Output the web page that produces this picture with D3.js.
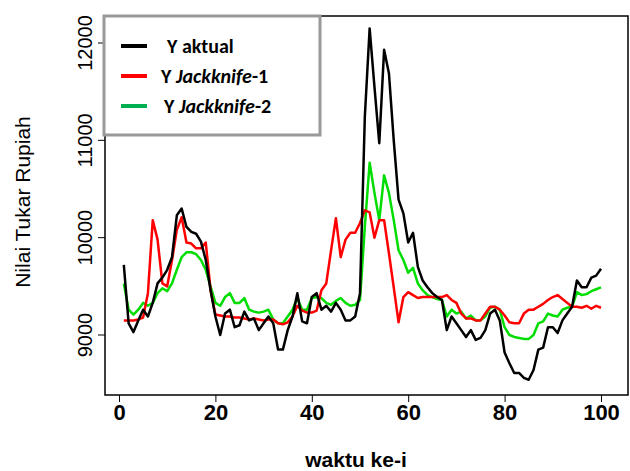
<!DOCTYPE html><html><head><script src="https://cdn.jsdelivr.net/npm/d3@7"></script>
<style>body{margin:0;background:#fff}</style></head><body><svg id="c" width="630" height="471"></svg>
<script>
const aktual=[9720,9120,9030,9150,9260,9190,9330,9530,9590,9670,9800,10230,10300,10110,10060,10040,9960,9770,9460,9190,
9000,9220,9260,9080,9100,9240,9150,9170,9050,9120,9190,9120,8850,8850,9050,9190,9430,9140,9120,9390,
9430,9260,9300,9240,9330,9260,9150,9150,9190,9430,11240,12150,11550,10970,11930,11690,11000,10390,10250,9950,
10050,9700,9560,9490,9430,9390,9360,9050,9190,9120,9050,8980,9050,8950,8970,9050,9220,9260,9150,8820,
8710,8610,8610,8560,8540,8640,8850,8870,9080,9080,9020,9150,9220,9290,9560,9490,9490,9590,9610,9680];
const jk1=[9150,9150,9150,9160,9180,9430,10180,9980,9530,9500,9770,10080,10210,9950,9940,9890,9890,9950,9460,9210,
9200,9190,9190,9180,9180,9170,9160,9170,9160,9150,9160,9160,9120,9110,9130,9190,9300,9250,9230,9230,
9250,9460,9530,9870,10200,9800,9980,10050,10050,10150,10280,10260,10000,10180,10180,9840,9490,9130,9390,9440,
9410,9380,9390,9390,9390,9390,9390,9410,9360,9330,9220,9170,9170,9150,9150,9220,9290,9290,9260,9200,
9130,9120,9120,9220,9260,9260,9290,9320,9360,9390,9410,9370,9330,9290,9290,9280,9300,9270,9300,9280];
const jk2=[9530,9260,9210,9260,9330,9300,9330,9430,9480,9450,9530,9670,9800,9850,9850,9830,9770,9670,9500,9330,
9300,9390,9430,9330,9330,9380,9260,9240,9230,9240,9260,9160,9120,9120,9190,9260,9380,9260,9260,9380,
9390,9380,9330,9310,9350,9380,9330,9300,9310,9360,10110,10770,10460,10180,10640,10460,10180,9870,9770,9640,
9690,9530,9460,9410,9390,9370,9360,9190,9260,9220,9240,9170,9200,9150,9150,9190,9280,9290,9260,9080,
9000,8980,8970,8960,8960,9000,9120,9140,9220,9200,9190,9260,9280,9290,9440,9410,9420,9450,9470,9490];
const xTicks=[0,20,40,60,80,100], yTicks=[9000,10000,11000,12000];
const legendLabels=[["Y aktual",""],["Y ","Jackknife","-1"],["Y ","Jackknife","-2"]];
const colors=["#000","#ff0000","#00dd00"];
const svg=d3.select("#c");
const x=d3.scaleLinear().domain([0,100]).range([119,601]);
const y=d3.scaleLinear().domain([9000,12000]).range([335,43]);
svg.append("rect").attr("x",105).attr("y",16).attr("width",523).attr("height",379).attr("fill","none").attr("stroke","#000").attr("stroke-width",1.5);
const ax=svg.append("g").attr("transform","translate(0,395)").call(d3.axisBottom(x).tickValues(xTicks).tickSize(7).tickPadding(2));
ax.select(".domain").remove();
ax.selectAll("text").attr("font-family","Liberation Sans, Arial").attr("font-size",22).attr("font-weight","bold").attr("fill","#000");
const ay=svg.append("g").attr("transform","translate(105,0)").call(d3.axisLeft(y).tickValues(yTicks).tickSize(7).tickFormat(d3.format("d")));
ay.select(".domain").remove();
ay.selectAll(".tick").attr("transform","translate(0,0)");
ay.selectAll(".tick line").attr("y1",d=>y(d)).attr("y2",d=>y(d));
ay.selectAll("text").attr("font-family","Liberation Sans, Arial").attr("font-size",20).attr("fill","#000").attr("text-anchor","middle").attr("dy",0)
 .each(function(d){d3.select(this).attr("transform",`translate(-13,${y(d)}) rotate(-90)`).attr("x",0).attr("y",0);});
const line=d3.line().x((d,i)=>x(i+1)).y(d=>y(d));
[jk2,jk1,aktual].forEach((s,k)=>{
 svg.append("path").datum(s).attr("d",line).attr("fill","none").attr("stroke",colors[2-k]).attr("stroke-width",2.5).attr("stroke-linejoin","round");
});
svg.append("rect").attr("x",104).attr("y",16).attr("width",216).attr("height",119).attr("fill","#fff").attr("stroke","#999").attr("stroke-width",3);
const lg=["#000","#ff0000","#00b050"];
legendLabels.forEach((l,i)=>{
 const yy=46+i*30;
 svg.append("line").attr("x1",121).attr("x2",147).attr("y1",yy).attr("y2",yy).attr("stroke",lg[i]).attr("stroke-width",4);
 const t=svg.append("text").attr("x",i==0?167:i==1?161:164).attr("y",yy+7).attr("font-family","Carlito, Liberation Sans, Arial").attr("font-size",20).attr("font-weight","bold");
 t.append("tspan").text(l[0]);
 if(l[1]){t.append("tspan").attr("font-style","italic").text(l[1]);t.append("tspan").text(l[2]);}
});
svg.append("text").attr("x",356).attr("y",467).attr("text-anchor","middle").attr("font-family","Liberation Sans, Arial").attr("font-size",21).attr("font-weight","bold").text("waktu ke-i");
svg.append("text").attr("transform","translate(30,202) rotate(-90)").attr("text-anchor","middle").attr("font-family","Liberation Sans, Arial").attr("font-size",21).text("Nilai Tukar Rupiah");
</script></body></html>
